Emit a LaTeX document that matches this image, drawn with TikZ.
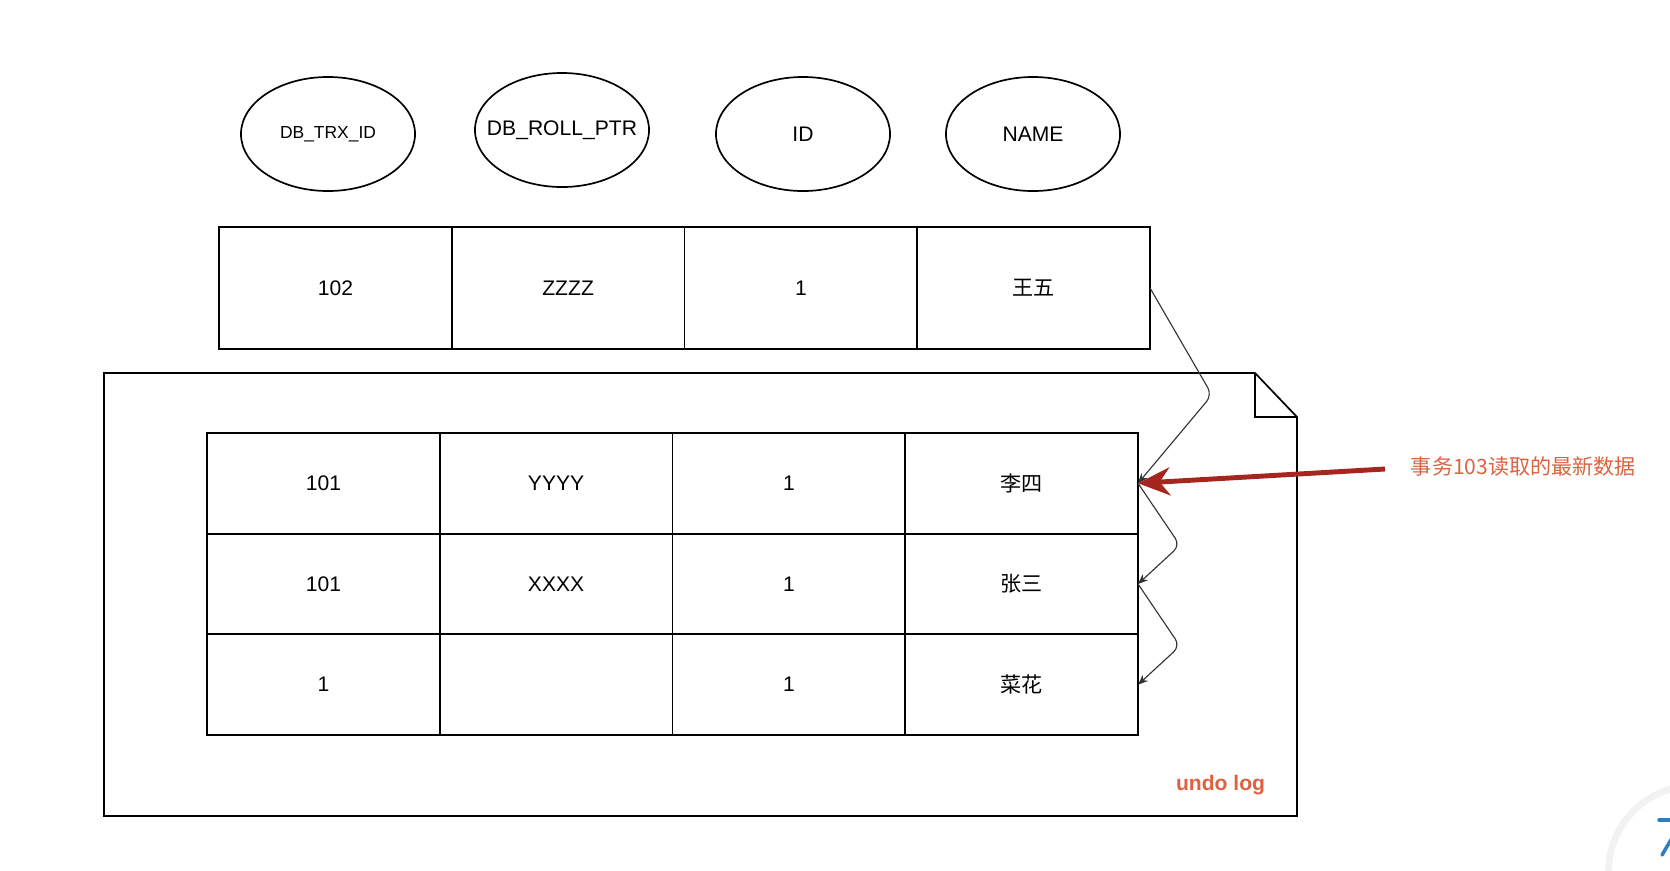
\documentclass[tikz,border=0pt]{standalone}
\usepackage{fontspec}
\setmainfont{Liberation Sans}
\newfontfamily\cjk{Noto Sans CJK SC}
\usetikzlibrary{shapes.geometric}
\usetikzlibrary{arrows.meta}

\definecolor{notered}{RGB}{222,98,64}
\definecolor{arrowred}{RGB}{165,38,30}
\definecolor{topblue}{RGB}{43,127,196}

\begin{document}
\begin{tikzpicture}[
      x=0.025cm, y=-0.025cm,
      field_oval/.style={ellipse,draw,line width=1.2pt,minimum width=4.35cm,minimum height=2.85cm,inner sep=0pt,font=\fontsize{15}{18}\selectfont},
      cell_box/.style={rectangle,draw,line width=1.2pt,minimum width=5.82cm,inner sep=0pt,outer sep=0pt,font=\fontsize{15}{18}\selectfont},
      top_cell/.style={cell_box,minimum height=3.05cm},
      log_cell/.style={cell_box,minimum height=2.52cm},
      chain_line/.style={line width=0.8pt,draw=black!80,rounded corners=6pt,-{Stealth[length=2.5mm,width=2mm]}},
      red_arrow/.style={line width=3.5pt,draw=arrowred,-{Stealth[length=8mm,width=7mm]}},
      note_text/.style={text=notered,font=\fontsize{15}{18}\selectfont}
    ]

    \useasboundingbox (0,0) rectangle (1670,870);

    % ------------------------------------------------------------------ %
    % Hidden columns
    % ------------------------------------------------------------------ %

    \node[field_oval] (trx) at (328,134) {\fontsize{12.4}{15}\selectfont DB\_TRX\_ID};
    \node[field_oval,inner xsep=-11pt] (roll) at (562,130) {DB\_ROLL\_PTR};
    \node[field_oval] (id) at (803,134) {ID};
    \node[field_oval] (name) at (1033,134) {NAME};

    % ------------------------------------------------------------------ %
    % Current row
    % ------------------------------------------------------------------ %

    \node[top_cell] (top1) at (335.4,288) {102};
    \node[top_cell] (top2) at (568.1,288) {ZZZZ};
    \node[top_cell] (top3) at (800.9,288) {1};
    \node[top_cell] (top4) at (1033.6,288) {\cjk 王五};

    % ------------------------------------------------------------------ %
    % Undo log page
    % ------------------------------------------------------------------ %

    % page outline with folded corner
    \draw[line width=1.2pt] (104,373) -- (1255,373) -- (1297,417) -- (1297,816) -- (104,816) -- cycle;
    \draw[line width=1.2pt] (1255,373) -- (1255,417) -- (1297,417);

    % old versions
    \node[log_cell] (u11) at (323.4,483.3) {101};
    \node[log_cell] (u12) at (556.1,483.3) {YYYY};
    \node[log_cell] (u13) at (788.9,483.3) {1};
    \node[log_cell] (u14) at (1021.6,483.3) {\cjk 李四};

    \node[log_cell] (u21) at (323.4,584) {101};
    \node[log_cell] (u22) at (556.1,584) {XXXX};
    \node[log_cell] (u23) at (788.9,584) {1};
    \node[log_cell] (u24) at (1021.6,584) {\cjk 张三};

    \node[log_cell] (u31) at (323.4,684.7) {1};
    \node[log_cell] (u32) at (556.1,684.7) {};
    \node[log_cell] (u33) at (788.9,684.7) {1};
    \node[log_cell] (u34) at (1021.6,684.7) {\cjk 菜花};

    % version chain
    \draw[chain_line] (top4.east) -- ++(62,107) -- (u14.east);
    \draw[chain_line] (u14.east) -- ++(42,62) -- (u24.east);
    \draw[chain_line] (u24.east) -- ++(42,62) -- (u34.east);

    % ------------------------------------------------------------------ %
    % Annotations
    % ------------------------------------------------------------------ %

    \node[note_text,anchor=west] (latest) at (1406,466) {\cjk 事务103读取的最新数据};
    \coordinate (tail) at (1385,469);
    \draw[red_arrow] (tail) -- (u14.east);

    \node[note_text,anchor=south east] (undo) at (1270,800) {\bfseries undo log};

    % scroll button
    \fill[black!5] (1695,872) circle (90);
    \fill[white] (1695,872) circle (83);
    \draw[topblue,line width=2.5pt,line cap=round] (1659,820) -- (1672,820);
    \draw[topblue,line width=2.5pt,line cap=round] (1662,855) -- (1672,838);

    \end{tikzpicture}
\end{document}
